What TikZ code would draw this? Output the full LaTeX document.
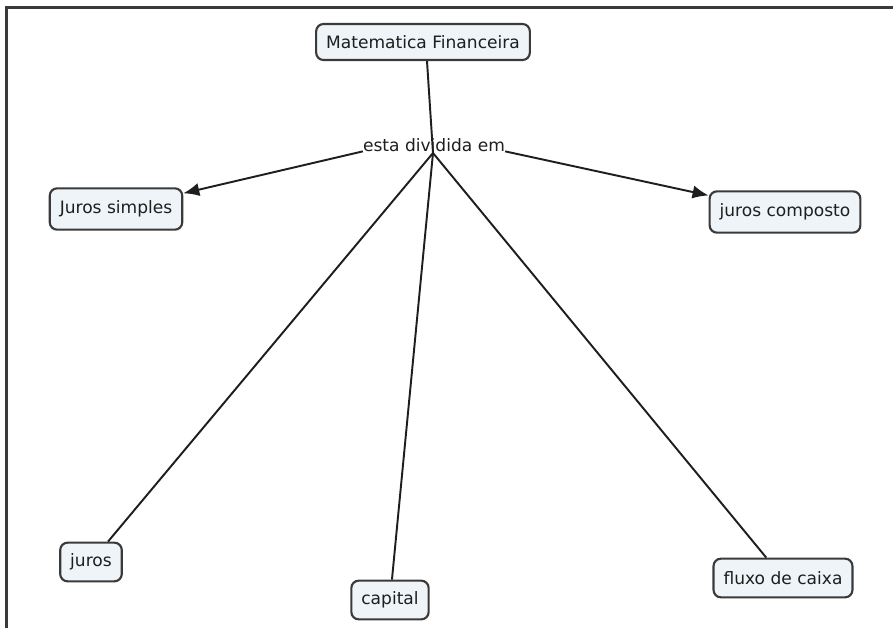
\documentclass[tikz,border=0pt]{standalone}
\usepackage{fontspec}
\setmainfont{DejaVu Sans}
\usetikzlibrary{arrows.meta}
\definecolor{boxfill}{HTML}{EEF4F7}
\definecolor{boxline}{HTML}{3A3A3A}
\definecolor{ink}{HTML}{1E1E1E}
\begin{document}
\begin{tikzpicture}[x=0.75pt,y=-0.75pt,
  concept/.style={draw=boxline, line width=1.6pt, fill=boxfill, rounded corners=5.5pt,
    inner xsep=7.5pt, inner ysep=0pt, minimum height=29pt,
    font=\fontsize{12.8pt}{14pt}\selectfont, text=ink},
  linklabel/.style={inner sep=0pt, font=\fontsize{12.8pt}{14pt}\selectfont, text=ink},
  link/.style={draw=ink, line width=1.45pt},
  linkarrow/.style={link, -{Latex[length=12pt,width=10pt]}}]
\useasboundingbox (0,0) rectangle (893,628);
% frame along the top and left edges
\draw[boxline, line width=1.6pt] (6.5,628) -- (6.5,7.5) -- (893,7.5);

\node[concept, minimum height=27pt] (mf) at (423,42) {Matematica Financeira};
\node[linklabel] (lbl) at (434,145) {esta dividida em};
\coordinate (hub) at (433,153);

\node[concept, minimum height=31pt] (js) at (116,209) {Juros simples};
\node[concept, minimum height=31pt] (jc) at (785,212) {juros composto};
\node[concept] (ju) at (91,562) {juros};
\node[concept] (ca) at (390,600) {capital};
\node[concept] (fc) at (783,578) {fluxo de caixa};

\draw[link] ([xshift=3pt]mf.south) -- (hub);
\draw[linkarrow] (lbl.base west) -- (js);
\draw[linkarrow] (lbl.base east) -- (jc);
\draw[link] (hub) -- (ju);
\draw[link] (hub) -- (ca);
\draw[link] (hub) -- (fc);
\end{tikzpicture}
\end{document}
